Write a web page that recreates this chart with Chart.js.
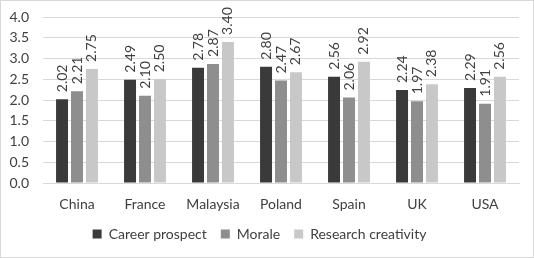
<!DOCTYPE html>
<html>
<head>
<meta charset="utf-8">
<script src="https://cdn.jsdelivr.net/npm/chart.js@4"></script>
<style>
  html, body { margin: 0; padding: 0; background: #fff; }
  canvas { display: block; }
</style>
</head>
<body>
<canvas id="chart" width="534" height="258"></canvas>
<script>
const countries = ['China', 'France', 'Malaysia', 'Poland', 'Spain', 'UK', 'USA'];
const careerProspect = [2.02, 2.49, 2.78, 2.80, 2.56, 2.24, 2.29];
const morale = [2.21, 2.10, 2.87, 2.47, 2.06, 1.97, 1.91];
const researchCreativity = [2.75, 2.50, 3.40, 2.67, 2.92, 2.38, 2.56];
const seriesNames = ['Career prospect', 'Morale', 'Research creativity'];
const seriesColors = ['#3a3a3a', '#8e8e8e', '#c8c8c8'];

const textColor = '#404040';
const fontFamily = 'Lato, "Open Sans", sans-serif';

// white background + thin frame like the exported chart
const frame = {
  id: 'frame',
  beforeDraw(chart) {
    const ctx = chart.ctx;
    ctx.save();
    ctx.fillStyle = '#fff';
    ctx.fillRect(0, 0, chart.width, chart.height);
    ctx.strokeStyle = '#d9d9d9';
    ctx.lineWidth = 1;
    ctx.strokeRect(0.5, 0.5, chart.width - 1, chart.height - 1);
    ctx.restore();
  }
};

// vertical value labels on top of each bar
const valueLabels = {
  id: 'valueLabels',
  afterDatasetsDraw(chart) {
    const ctx = chart.ctx;
    ctx.save();
    ctx.font = '14px ' + fontFamily;
    ctx.fillStyle = textColor;
    ctx.textAlign = 'left';
    ctx.textBaseline = 'middle';
    chart.data.datasets.forEach((ds, i) => {
      chart.getDatasetMeta(i).data.forEach((bar, j) => {
        ctx.save();
        ctx.translate(bar.x, bar.y - 7);
        ctx.rotate(-Math.PI / 2);
        ctx.fillText(ds.data[j].toFixed(2), 0, 0);
        ctx.restore();
      });
    });
    ctx.restore();
  }
};

const datasets = [careerProspect, morale, researchCreativity].map((vals, i) => ({
  label: seriesNames[i],
  data: vals,
  backgroundColor: seriesColors[i],
  borderWidth: 0,
  categoryPercentage: 0.66,
  barPercentage: 0.8
}));

new Chart(document.getElementById('chart'), {
  type: 'bar',
  data: { labels: countries, datasets: datasets },
  options: {
    responsive: false,
    animation: false,
    layout: { padding: { left: 0, right: 15, top: 17, bottom: 7 } },
    scales: {
      x: {
        grid: { display: false, drawTicks: false },
        border: { display: true, color: '#d9d9d9' },
        ticks: { color: textColor, font: { size: 14, family: fontFamily }, padding: 13 },
        afterFit(scale) { scale.height = 30; }
      },
      y: {
        min: 0,
        max: 4,
        ticks: {
          stepSize: 0.5,
          color: textColor,
          font: { size: 14, family: fontFamily },
          padding: 14,
          callback: v => v.toFixed(1)
        },
        grid: { color: '#d9d9d9', drawTicks: false },
        border: { display: false },
        afterFit(scale) {
          scale.width = 43;
          scale.paddingTop = 0;
          scale.paddingBottom = 0;
        }
      }
    },
    plugins: {
      legend: {
        position: 'bottom',
        labels: {
          color: textColor,
          font: { size: 14, family: fontFamily },
          boxWidth: 9,
          boxHeight: 9,
          padding: 14
        }
      },
      tooltip: { enabled: false }
    }
  },
  plugins: [frame, valueLabels]
});
</script>
</body>
</html>
